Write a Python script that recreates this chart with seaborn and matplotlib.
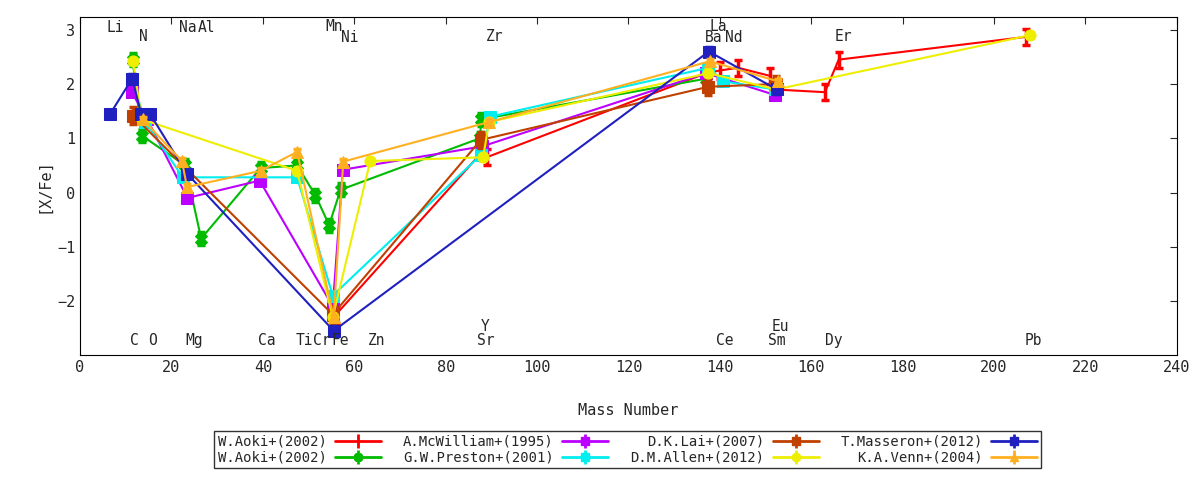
import matplotlib
matplotlib.use("Agg")
import matplotlib.pyplot as plt
import pandas as pd
import seaborn as sns

# element labels: (name, mass position, y position)
top_labels = [("Li", 7.8, 3.05), ("N", 13.9, 2.87), ("Na", 23.6, 3.05), ("Al", 27.6, 3.05),
              ("Mn", 55.5, 3.07), ("Ni", 59.0, 2.85), ("Zr", 90.8, 2.87), ("La", 139.6, 3.07),
              ("Ba", 138.6, 2.85), ("Nd", 143.0, 2.85), ("Er", 167.0, 2.87)]
bottom_labels = [("C", 11.8, -2.73), ("O", 15.8, -2.73), ("Mg", 24.9, -2.73), ("Ca", 40.8, -2.73),
                 ("Ti", 49.0, -2.73), ("Cr", 52.8, -2.73), ("Fe", 57.0, -2.73), ("Zn", 64.9, -2.73),
                 ("Sr", 88.7, -2.73), ("Y", 88.7, -2.47), ("Ce", 141.0, -2.73), ("Sm", 152.5, -2.73),
                 ("Eu", 153.2, -2.47), ("Dy", 165.0, -2.73), ("Pb", 208.7, -2.73)]

aoki_red_x = [56, 88, 89, 137, 140, 144, 151, 152, 163, 166, 207]
aoki_red_y = [-2.25, 0.75, 0.65, 2.2, 2.25, 2.3, 2.15, 1.9, 1.85, 2.45, 2.87]
aoki_green_x = [11.5, 13.5, 23, 26.5, 39.5, 47.5, 51.5, 54.5, 57, 87.5, 87.8, 137]
aoki_green_y = [2.45, 1.05, 0.5, -0.85, 0.45, 0.5, -0.05, -0.6, 0.05, 1.0, 1.35, 2.1]
mcwilliam_x = [11.3, 14.7, 23.5, 39.3, 55.3, 57.5, 88, 137, 152]
mcwilliam_y = [1.85, 1.35, -0.1, 0.22, -2.1, 0.42, 0.85, 2.2, 1.8]
preston_x = [11.3, 14.3, 22.5, 47.5, 55.3, 87.8, 89.8, 137.5, 140.8, 152]
preston_y = [2.1, 1.3, 0.28, 0.28, -1.9, 0.7, 1.4, 2.3, 2.05, 1.9]
lai_x = [11.6, 55.3, 87.7, 137.5, 152.3]
lai_y = [1.42, -2.25, 0.97, 1.95, 2.0]
allen_x = [11.6, 13.5, 47.5, 55.3, 63.5, 88.2, 89.5, 137.5, 152.3, 207.8]
allen_y = [2.42, 1.35, 0.4, -2.3, 0.58, 0.65, 1.3, 2.2, 1.9, 2.9]
masseron_x = [6.6, 11.4, 13.4, 15.3, 23.4, 55.5, 137.6, 152.5]
masseron_y = [1.45, 2.1, 1.45, 1.45, 0.35, -2.55, 2.6, 1.9]
venn_x = [13.7, 22.3, 23.4, 39.5, 47.5, 55.5, 57.6, 89.5, 137.8, 152.7]
venn_y = [1.35, 0.58, 0.1, 0.4, 0.75, -2.3, 0.57, 1.3, 2.42, 2.05]

series = [
    ("W.Aoki+(2002)", aoki_red_x, aoki_red_y, "#ff0000", "|", 0.15),
    ("W.Aoki+(2002)", aoki_green_x, aoki_green_y, "#00bb00", "X", 0.12),
    ("A.McWilliam+(1995)", mcwilliam_x, mcwilliam_y, "#bb00ff", "s", 0.05),
    ("G.W.Preston+(2001)", preston_x, preston_y, "#00eeee", "s", 0.05),
    ("D.K.Lai+(2007)", lai_x, lai_y, "#c04000", "s", 0.15),
    ("D.M.Allen+(2012)", allen_x, allen_y, "#eeee00", "o", 0.05),
    ("T.Masseron+(2012)", masseron_x, masseron_y, "#2020c0", "s", 0.08),
    ("K.A.Venn+(2004)", venn_x, venn_y, "#ffb020", "^", 0.05),
]

sns.set_style("white")
plt.rcParams["font.family"] = ["DejaVu Sans Mono"]
fig = plt.figure(figsize=(12, 4.8), dpi=100)
ax = fig.add_axes([0.0667, 0.26, 0.914, 0.705])

handles = []
for name, xs, ys, color, marker, err in series:
    df = pd.DataFrame({"mass": xs, "xfe": ys})
    sns.lineplot(data=df, x="mass", y="xfe", sort=False, color=color, linewidth=1.5,
                 marker=marker, markersize=8, markeredgecolor=color, ax=ax)
    ax.errorbar(xs, ys, yerr=err, fmt="none", ecolor=color, elinewidth=2.5, capsize=3, capthick=2.5)
    handles.append((ax.errorbar([], [], yerr=[], color=color, marker=marker, markersize=6,
                                linewidth=2, elinewidth=2, capsize=3), name))

for name, xm, yv in top_labels + bottom_labels:
    ax.text(xm, yv, name, ha="center", va="center", fontsize=10.5)

ax.set_xlim(0, 240)
ax.set_ylim(-3, 3.24)
ax.set_xticks(range(0, 241, 20))
ax.set_yticks(range(-2, 4))
ax.tick_params(direction="in", length=5, labelsize=11, top=True, right=True)
ax.set_xlabel("Mass Number", fontsize=11, labelpad=20)
ax.set_ylabel("[X/Fe]", fontsize=11)
for s in ax.spines.values():
    s.set_color("black")

fig.legend([h for h, _ in handles], [n for _, n in handles], ncol=4,
           loc="lower center", bbox_to_anchor=(0.523, 0.01), markerfirst=False, fontsize=10,
           frameon=True, fancybox=False, edgecolor="black", handlelength=3.3,
           handletextpad=0.6, columnspacing=1.6, borderpad=0.25, labelspacing=0.15)

fig.savefig("out.png", dpi=100)
